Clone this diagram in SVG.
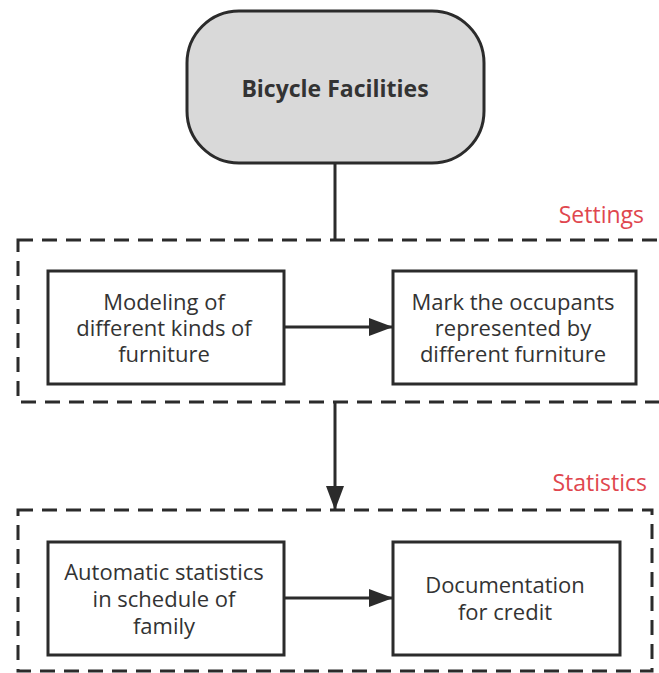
<svg xmlns="http://www.w3.org/2000/svg" width="659" height="673" viewBox="0 0 659 673">
  <defs>
    <marker id="arrow" viewBox="0 0 24 18" refX="24" refY="9" markerWidth="24" markerHeight="18" markerUnits="userSpaceOnUse" orient="auto">
      <path d="M0,0 L24,9 L0,18 Z" fill="#2b2b2b"/>
    </marker>
  </defs>
  <style>
    .group-frame { fill: none; stroke: #2b2b2b; stroke-width: 3; stroke-dasharray: 15 9; }
    .box { fill: #ffffff; stroke: #2b2b2b; stroke-width: 3; }
    .label { font-family: "Open Sans", "Noto Sans", "Liberation Sans", sans-serif; font-size: 22px; fill: #333333; text-anchor: middle; }
    .title { font-family: "Open Sans", "Noto Sans", "Liberation Sans", sans-serif; font-size: 23px; font-weight: bold; fill: #333333; text-anchor: middle; }
    .section { font-family: "Open Sans", "Noto Sans", "Liberation Sans", sans-serif; font-size: 23px; fill: #e0464e; text-anchor: end; }
    .link { fill: none; stroke: #2b2b2b; stroke-width: 3; }
  </style>
  <rect width="659" height="673" fill="#ffffff"/>

  <!-- section frames -->
  <g id="settings-frame">
    <rect class="group-frame" x="18" y="240" width="660" height="162"/>
    <text class="section" x="644" y="223">Settings</text>
  </g>
  <g id="statistics-frame">
    <rect class="group-frame" x="18" y="510" width="634" height="161"/>
    <text class="section" x="647" y="491">Statistics</text>
  </g>

  <!-- connectors -->
  <g id="connectors">
    <line class="link" x1="335" y1="163" x2="335" y2="240"/>
    <line class="link" x1="335" y1="402" x2="335" y2="510" marker-end="url(#arrow)"/>
    <line class="link" x1="284" y1="327" x2="393" y2="327" marker-end="url(#arrow)"/>
    <line class="link" x1="284" y1="598" x2="393" y2="598" marker-end="url(#arrow)"/>
  </g>

  <!-- nodes -->
  <g id="bicycle-facilities">
    <rect x="187" y="11" width="297" height="152" rx="52" ry="52" fill="#d9d9d9" stroke="#2b2b2b" stroke-width="3"/>
    <text class="title" x="335" y="97">Bicycle Facilities</text>
  </g>

  <g id="modeling">
    <rect class="box" x="48" y="271" width="236" height="113"/>
    <text class="label" x="164" y="310">Modeling of</text>
    <text class="label" x="164" y="336">different kinds of</text>
    <text class="label" x="164" y="362">furniture</text>
  </g>

  <g id="mark-occupants">
    <rect class="box" x="393" y="271" width="243" height="113"/>
    <text class="label" x="513" y="310">Mark the occupants</text>
    <text class="label" x="513" y="336">represented by</text>
    <text class="label" x="513" y="362">different furniture</text>
  </g>

  <g id="automatic-statistics">
    <rect class="box" x="48" y="542" width="236" height="113"/>
    <text class="label" x="164" y="580">Automatic statistics</text>
    <text class="label" x="164" y="607">in schedule of</text>
    <text class="label" x="164" y="634">family</text>
  </g>

  <g id="documentation">
    <rect class="box" x="393" y="542" width="227" height="113"/>
    <text class="label" x="505" y="593">Documentation</text>
    <text class="label" x="505" y="620">for credit</text>
  </g>
</svg>
